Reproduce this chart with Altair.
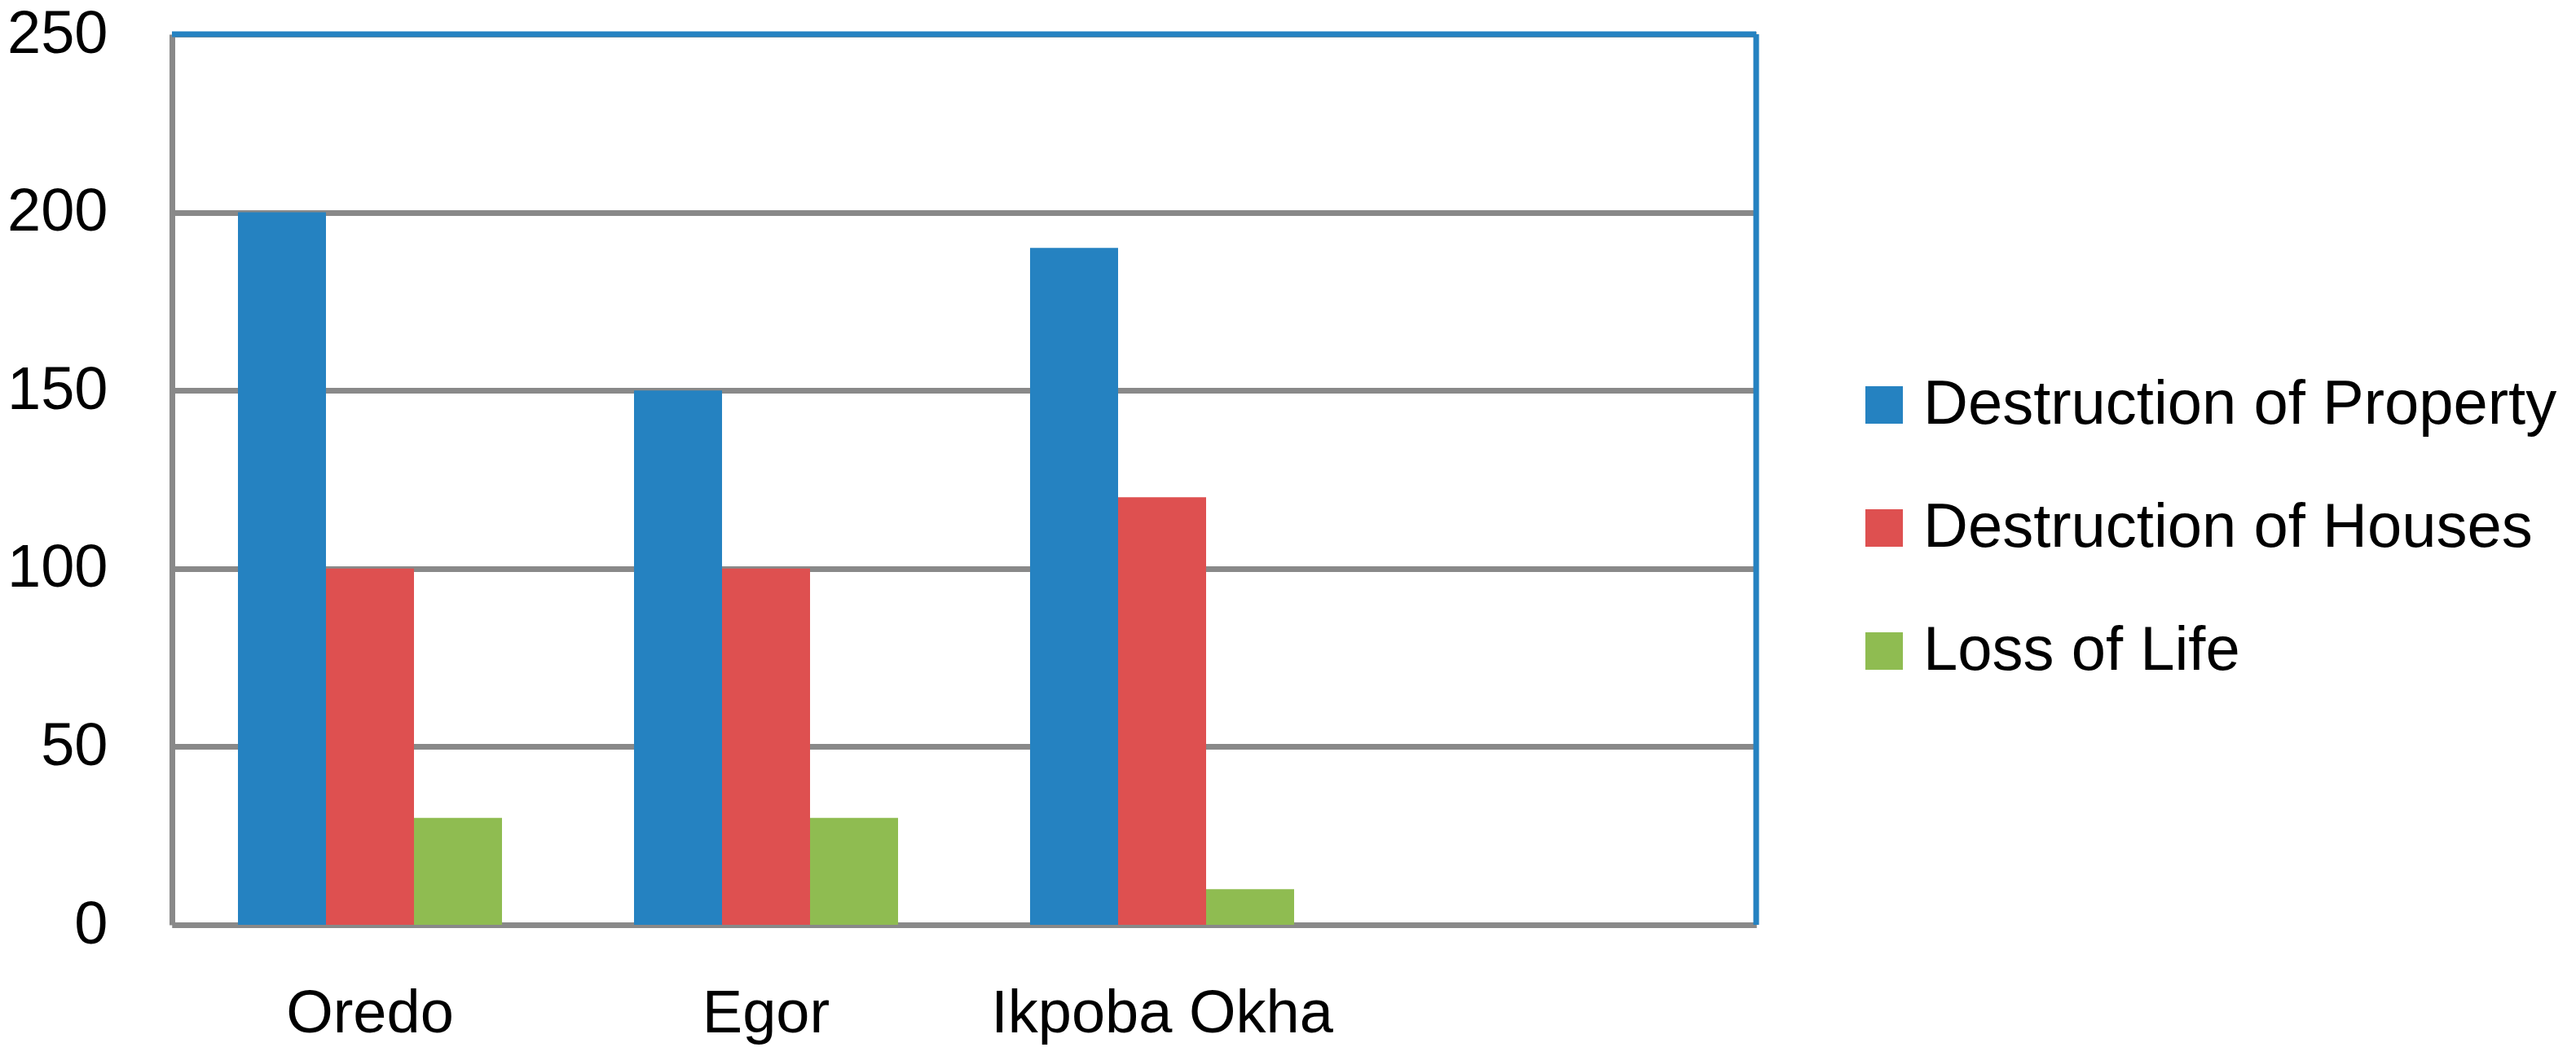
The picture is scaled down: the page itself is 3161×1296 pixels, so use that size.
import altair as alt
import pandas as pd

categories = ["Oredo", "Egor", "Ikpoba Okha"]
series = ["Destruction of Property", "Destruction of Houses", "Loss of Life"]
property_vals = [200, 150, 190]
houses_vals = [100, 100, 120]
life_vals = [30, 30, 10]
colors = ["#2582C1", "#DE5050", "#8FBC51"]
y_ticks = [0, 50, 100, 150, 200, 250]
x_domain = categories + [" "]

rows = []
for s, vals in zip(series, [property_vals, houses_vals, life_vals]):
    for c, v in zip(categories, vals):
        rows.append({"Area": c, "Series": s, "Value": v})
df = pd.DataFrame(rows)

W, H = 1944, 1093
FONT = "Liberation Sans"
GRAY = "#898989"
BLUE = "#2582C1"

bars = alt.Chart(df).mark_bar().encode(
    x=alt.X("Area:N", sort=x_domain,
            scale=alt.Scale(domain=x_domain, paddingInner=1/3, paddingOuter=1/6),
            axis=alt.Axis(title=None, labelAngle=0, labelFontSize=74, labelFont=FONT,
                          labelColor="black", labelPadding=73, ticks=False,
                          domainColor=GRAY, domainWidth=7, grid=False,
                          labelBaseline="top", labelLimit=0)),
    xOffset=alt.XOffset("Series:N", sort=series,
                        scale=alt.Scale(domain=series, paddingInner=0, paddingOuter=0)),
    y=alt.Y("Value:Q", scale=alt.Scale(domain=[0, 250], nice=False),
            axis=alt.Axis(values=y_ticks, title=None, grid=True, gridColor=GRAY,
                          gridWidth=7, ticks=False, labelPadding=79,
                          labelFontSize=74, labelFont=FONT, labelColor="black",
                          domainColor=GRAY, domainWidth=7, labelLimit=0)),
    color=alt.Color("Series:N", sort=series,
                    scale=alt.Scale(domain=series, range=colors),
                    legend=alt.Legend(orient="none", legendX=2063, legendY=417,
                                      title=None, symbolType="square",
                                      symbolSize=2116, symbolStrokeWidth=0,
                                      labelFontSize=76, labelFont=FONT,
                                      labelColor="black", labelOffset=10,
                                      rowPadding=75, padding=0, labelLimit=0)),
)

frame = alt.Chart(alt.Data(values=[{}]))
top_rule = frame.mark_rule(color=BLUE, strokeWidth=7).encode(
    x=alt.value(0), x2=alt.value(W), y=alt.value(0))
right_rule = frame.mark_rule(color=BLUE, strokeWidth=7).encode(
    x=alt.value(W), y=alt.value(0), y2=alt.value(H))

chart = alt.layer(bars, top_rule, right_rule).properties(
    width=W, height=H,
    autosize="none",
    padding={"left": 203, "top": 34, "right": 998, "bottom": 153},
).configure_view(stroke=None)

chart.save("out.html", embed_options={"renderer": "svg", "actions": False})
